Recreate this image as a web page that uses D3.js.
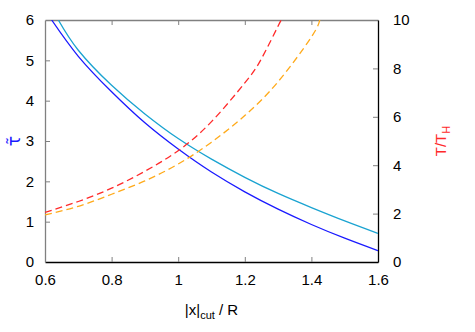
<!DOCTYPE html>
<html>
<head>
<meta charset="utf-8">
<script src="https://cdn.jsdelivr.net/npm/d3@7/dist/d3.min.js"></script>
<style>
  body { margin: 0; background: #fff; }
  svg { display: block; }
  text { font-family: "Liberation Sans", Arial, sans-serif; }
</style>
</head>
<body>
<svg id="chart" width="475" height="332"></svg>
<script>
// ---- data ----
const xTicks = [0.6, 0.8, 1.0, 1.2, 1.4, 1.6];
const yTicks = [0, 1, 2, 3, 4, 5, 6];
const y2Ticks = [0, 2, 4, 6, 8, 10];

const tauBlueX = [0.62, 0.7, 0.8, 0.9, 1.0, 1.1, 1.2, 1.3, 1.4, 1.5, 1.6];
const tauBlueY = [6.0, 5.1, 4.22, 3.45, 2.80, 2.23, 1.74, 1.31, 0.93, 0.59, 0.28];

const tauCyanX = [0.64, 0.7, 0.8, 0.9, 1.0, 1.1, 1.2, 1.3, 1.4, 1.5, 1.6];
const tauCyanY = [6.0, 5.25, 4.38, 3.67, 3.06, 2.55, 2.10, 1.70, 1.35, 1.02, 0.71];

const tRedX = [0.6, 0.7, 0.8, 0.9, 1.0, 1.1, 1.2, 1.25, 1.3, 1.31];
const tRedY = [2.05, 2.5, 3.05, 3.75, 4.6, 5.8, 7.4, 8.4, 9.75, 10.0];

const tOrangeX = [0.6, 0.7, 0.8, 0.9, 1.0, 1.1, 1.2, 1.3, 1.4, 1.425];
const tOrangeY = [1.95, 2.3, 2.8, 3.35, 4.05, 4.95, 6.05, 7.45, 9.3, 10.0];

// ---- layout ----
const svg = d3.select("#chart");
const L = 45, R = 378, T = 20, B = 262;

const x = d3.scaleLinear().domain([0.6, 1.6]).range([L, R]);
const y = d3.scaleLinear().domain([0, 6]).range([B, T]);
const y2 = d3.scaleLinear().domain([0, 10]).range([B, T]);

svg.append("defs").append("clipPath").attr("id", "clip")
  .append("rect").attr("x", L).attr("y", T).attr("width", R - L).attr("height", B - T);

const fmtX = d => (d === 1 ? "1" : d3.format(".1f")(d));
const fmtInt = d3.format("d");

function styleAxis(g, domainColor) {
  g.selectAll(".tick line").attr("stroke", "#808080").attr("stroke-width", 1);
  g.select(".domain").attr("stroke", domainColor).attr("stroke-width", 1.3);
  g.selectAll(".tick text").attr("fill", "#000").style("font-size", "15px")
    .style("font-family", "'Liberation Sans', Arial, sans-serif");
}

// bottom axis
const gx = svg.append("g").attr("transform", `translate(0,${B})`)
  .call(d3.axisBottom(x).tickValues(xTicks).tickFormat(fmtX).tickSizeInner(-5).tickSizeOuter(0).tickPadding(12));
styleAxis(gx, "#000");
// top axis (mirror ticks)
const gxt = svg.append("g").attr("transform", `translate(0,${T})`)
  .call(d3.axisTop(x).tickValues(xTicks).tickFormat("").tickSizeInner(-5).tickSizeOuter(0));
styleAxis(gxt, "#808080");
// left axis
const gy = svg.append("g").attr("transform", `translate(${L},0)`)
  .call(d3.axisLeft(y).tickValues(yTicks).tickFormat(fmtInt).tickSizeInner(-5).tickSizeOuter(0).tickPadding(11));
styleAxis(gy, "#808080");
// right axis
const gy2 = svg.append("g").attr("transform", `translate(${R},0)`)
  .call(d3.axisRight(y2).tickValues(y2Ticks).tickFormat(fmtInt).tickSizeInner(-5).tickSizeOuter(0).tickPadding(15));
styleAxis(gy2, "#000");

// remove tick lines at the ends that overlap the border
[gx, gxt].forEach(g => g.selectAll(".tick").filter(d => d === 0.6 || d === 1.6).select("line").remove());
gy.selectAll(".tick").filter(d => d === 0 || d === 6).select("line").remove();
gy2.selectAll(".tick").filter(d => d === 0 || d === 10).select("line").remove();

// ---- series ----
const plot = svg.append("g").attr("clip-path", "url(#clip)");

function drawSeries(xs, ys, scaleY, color, dash) {
  const pts = xs.map((v, i) => [v, ys[i]]);
  const line = d3.line().x(d => x(d[0])).y(d => scaleY(d[1])).curve(d3.curveNatural);
  plot.append("path").attr("d", line(pts))
    .attr("fill", "none").attr("stroke", color).attr("stroke-width", 1.3)
    .attr("stroke-dasharray", dash || null);
}

drawSeries(tauBlueX, tauBlueY, y, "#1a1aff");
drawSeries(tauCyanX, tauCyanY, y, "#1aa3d1");
drawSeries(tRedX, tRedY, y2, "#ff2a2a", "7,4");
drawSeries(tOrangeX, tOrangeY, y2, "#ffaa1a", "7,4");

// ---- axis titles ----
const xt = svg.append("text").attr("x", (L + R) / 2).attr("y", 315)
  .attr("text-anchor", "middle").style("font-size", "15px").attr("fill", "#000");
xt.append("tspan").text("|x|");
xt.append("tspan").attr("dy", 4).style("font-size", "11px").text("cut");
xt.append("tspan").attr("dy", -4).text(" / R");

svg.append("text").attr("transform", "translate(20,141) rotate(-90)")
  .attr("text-anchor", "middle").style("font-size", "17px").attr("fill", "#1a1aff")
  .style("font-family", "'DejaVu Sans', sans-serif")
  .text("\u03C4\u0303");

const yt2 = svg.append("text").attr("transform", "translate(446,141) rotate(-90)")
  .attr("text-anchor", "middle").style("font-size", "15px").attr("fill", "#ff2a2a");
yt2.append("tspan").text("T/T");
yt2.append("tspan").attr("dy", 4).style("font-size", "11px").text("H");
</script>
</body>
</html>
